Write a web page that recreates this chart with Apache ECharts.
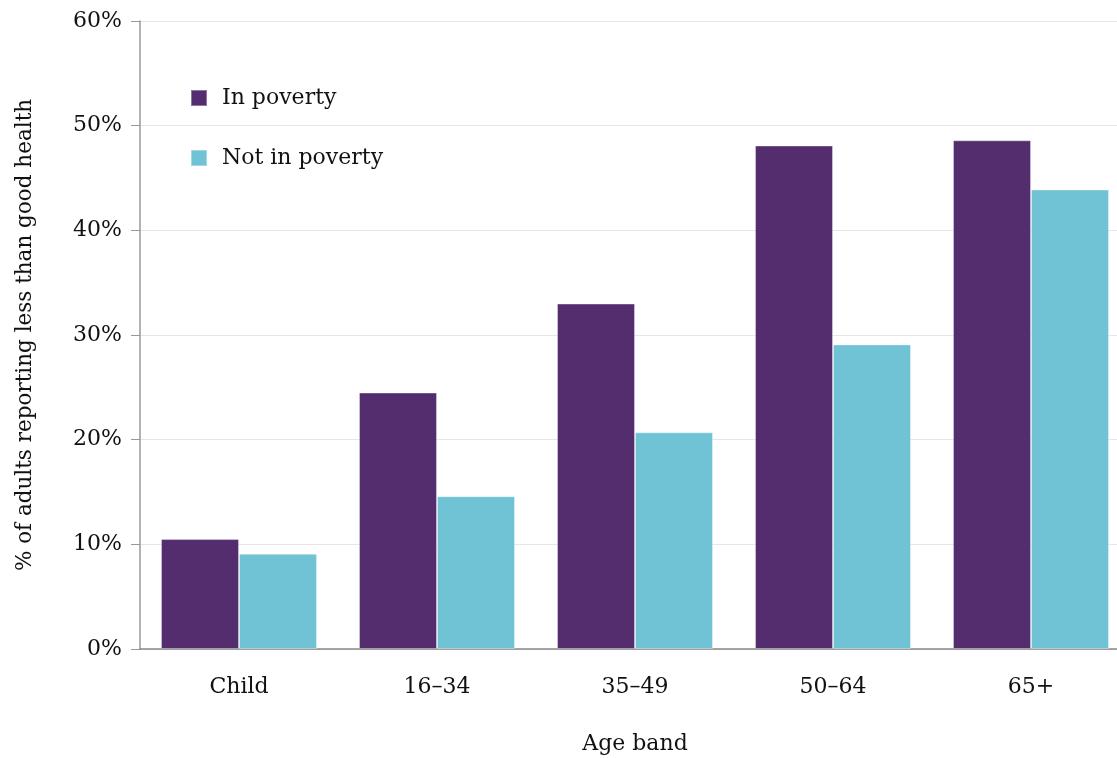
<!DOCTYPE html>
<html><head><meta charset="utf-8">
<script src="https://cdn.jsdelivr.net/npm/echarts@6/dist/echarts.min.js"></script>
<style>html,body{margin:0;padding:0;background:#fff}#c{width:1117px;height:758px}</style>
</head><body><div id="c"></div>
<script>
const categories = ['Child', '16–34', '35–49', '50–64', '65+'];
const inPoverty = [10.5, 24.5, 33.0, 48.1, 48.6];
const notInPoverty = [9.1, 14.6, 20.7, 29.1, 43.9];
const yTicks = [0, 10, 20, 30, 40, 50, 60];

const font = 'DejaVu Serif';
const chart = echarts.init(document.getElementById('c'));
chart.setOption({
  animation: false,
  textStyle: { fontFamily: font },
  grid: { left: 140, right: -13, top: 21, bottom: 109, containLabel: false, outerBoundsMode: 'none' },
  legend: {
    orient: 'vertical', left: 185, top: 82, itemGap: 38,
    itemWidth: 16, itemHeight: 16, icon: 'rect',
    textStyle: { fontFamily: font, fontSize: 22, color: '#111', padding: [0, 0, 0, 10] },
    data: ['In poverty', 'Not in poverty']
  },
  xAxis: {
    type: 'category', data: categories,
    name: 'Age band', nameLocation: 'middle', nameGap: 84,
    nameTextStyle: { fontFamily: font, fontSize: 22, color: '#111' },
    axisLine: { lineStyle: { color: '#888', width: 1.5 } },
    axisTick: { alignWithLabel: true, length: 8, lineStyle: { color: '#888' } },
    axisLabel: { fontFamily: font, fontSize: 22, color: '#111', margin: 27 }
  },
  yAxis: {
    type: 'value', min: yTicks[0], max: yTicks[yTicks.length - 1], interval: 10,
    name: '% of adults reporting less than good health', nameLocation: 'middle', nameGap: 104,
    nameTextStyle: { fontFamily: font, fontSize: 21.5, color: '#111' },
    axisLine: { show: true, lineStyle: { color: '#999', width: 1.5 } },
    axisTick: { show: true, length: 9, lineStyle: { color: '#999' } },
    axisLabel: { fontFamily: font, fontSize: 22, color: '#111', margin: 18, formatter: '{value}%' },
    splitLine: { lineStyle: { color: '#e6e6e6' } }
  },
  series: [
    { name: 'In poverty', type: 'bar', data: inPoverty, barWidth: 78, barGap: '0%',
      itemStyle: { color: '#532d6d', borderColor: 'rgba(255,255,255,0.35)', borderWidth: 1 } },
    { name: 'Not in poverty', type: 'bar', data: notInPoverty, barWidth: 78,
      itemStyle: { color: '#6fc3d4', borderColor: 'rgba(255,255,255,0.35)', borderWidth: 1 } }
  ]
});
</script></body></html>
